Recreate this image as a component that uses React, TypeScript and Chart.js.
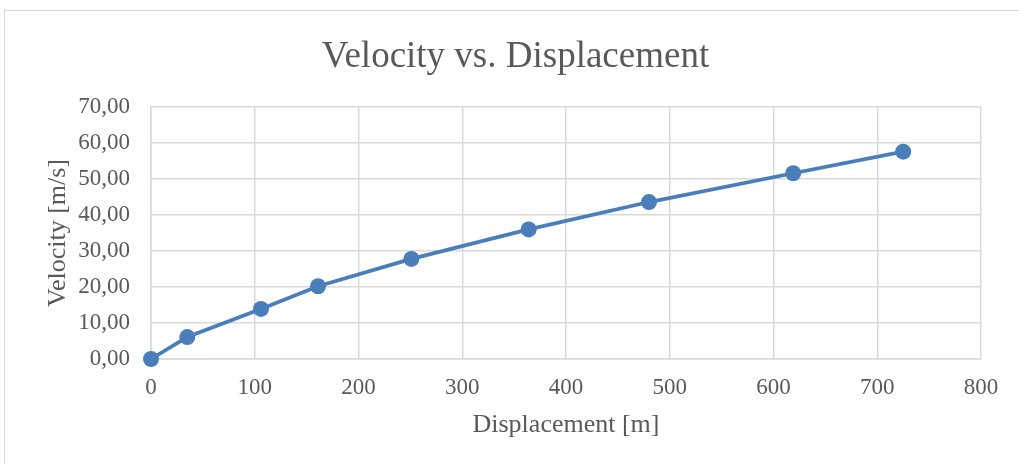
import React, { useEffect, useRef } from "react";
import { Chart, registerables } from "chart.js";

Chart.register(...registerables);

const displacement: number[] = [0, 35, 106, 161, 251, 364, 480, 619, 725];
const velocity: number[] = [0, 6.1, 13.9, 20.2, 27.8, 36.0, 43.6, 51.6, 57.6];
const xTicks: number[] = [0, 100, 200, 300, 400, 500, 600, 700, 800];
const yTicks: number[] = [0, 10, 20, 30, 40, 50, 60, 70];

const FONT = "'Liberation Serif', 'Times New Roman', serif";
const TEXT = "#595959";
const GRID = "#d9d9d9";
const LINE = "#4a7ebb";

export default function App() {
  const ref = useRef<HTMLCanvasElement | null>(null);

  useEffect(() => {
    document.body.style.margin = "0";
    const canvas = ref.current;
    if (!canvas) return;
    const points = displacement.map((x, i) => ({ x, y: velocity[i] }));
    const chart = new Chart(canvas, {
      type: "scatter",
      data: {
        datasets: [
          {
            data: points,
            showLine: true,
            clip: false,
            borderColor: LINE,
            backgroundColor: LINE,
            borderWidth: 3.75,
            pointRadius: 8,
            pointHoverRadius: 8,
            pointBorderWidth: 0,
            tension: 0,
          },
        ],
      },
      options: {
        animation: false,
        responsive: false,
        maintainAspectRatio: false,
        layout: { padding: { left: 12, right: 0, top: 0, bottom: 0 } },
        plugins: {
          legend: { display: false },
          tooltip: { enabled: false },
          title: {
            display: true,
            text: "Velocity vs. Displacement",
            color: TEXT,
            font: { family: FONT, size: 37, weight: "normal", lineHeight: 1.2 },
            padding: { top: 35, bottom: 27.6 },
          },
        },
        scales: {
          x: {
            type: "linear",
            min: 0,
            max: 800,
            afterBuildTicks: (s: any) => {
              s.ticks = xTicks.map((v) => ({ value: v }));
            },
            afterFit: (s: any) => {
              s.height = 105;
            },
            ticks: {
              color: TEXT,
              font: { family: FONT, size: 23 },
              padding: 15,
              maxRotation: 0,
              autoSkip: false,
              callback: (v: any) => String(v),
            },
            grid: { color: GRID, lineWidth: 1.5, drawTicks: false },
            border: { color: GRID, width: 1.5 },
            title: {
              display: true,
              text: "Displacement [m]",
              color: TEXT,
              font: { family: FONT, size: 26, lineHeight: 1.2 },
              padding: { top: 0, bottom: 23 },
            },
          },
          y: {
            type: "linear",
            min: 0,
            max: 70,
            afterBuildTicks: (s: any) => {
              s.ticks = yTicks.map((v) => ({ value: v }));
            },
            afterFit: (s: any) => {
              s.width = 139;
            },
            ticks: {
              color: TEXT,
              font: { family: FONT, size: 23 },
              padding: 21,
              autoSkip: false,
              callback: (v: any) => Number(v).toFixed(2).replace(".", ","),
            },
            grid: { color: GRID, lineWidth: 1.5, drawTicks: false },
            border: { color: GRID, width: 1.5 },
            title: {
              display: true,
              text: "Velocity [m/s]",
              color: TEXT,
              font: { family: FONT, size: 26, lineHeight: 1.2 },
              padding: { top: 31, bottom: 0 },
            },
          },
          y2: {
            type: "linear",
            position: "right",
            min: 0,
            max: 70,
            afterFit: (s: any) => {
              s.width = 38;
            },
            ticks: { display: false },
            grid: { display: false, drawOnChartArea: false, drawTicks: false },
            border: { display: false },
            title: { display: false },
          },
        },
      },
    } as any);
    return () => chart.destroy();
  }, []);

  return (
    <div
      style={{
        position: "relative",
        width: 1019,
        height: 464,
        overflow: "hidden",
        background: "#ffffff",
      }}
    >
      <div
        style={{
          position: "absolute",
          left: 4,
          top: 10,
          width: 1100,
          height: 600,
          border: `1px solid ${GRID}`,
          boxSizing: "border-box",
        }}
      />
      <canvas
        ref={ref}
        width={1019}
        height={464}
        style={{ position: "absolute", left: 0, top: 0, width: 1019, height: 464 }}
      />
    </div>
  );
}
